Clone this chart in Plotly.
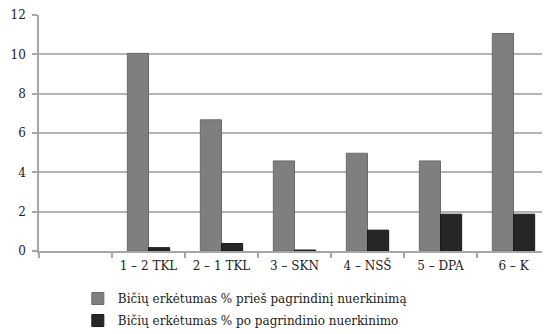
import plotly.graph_objects as go

categories = [" ", "1 – 2 TKL", "2 – 1 TKL", "3 – SKN", "4 – NSŠ", "5 – DPA", "6 – K"]
before = [None, 10.05, 6.67, 4.58, 4.97, 4.58, 11.06]
after = [None, 0.17, 0.38, 0.05, 1.06, 1.87, 1.87]
series_names = ["Bičių erkėtumas % prieš pagrindinį nuerkinimą",
                "Bičių erkėtumas % po pagrindinio nuerkinimo"]
y_ticks = [0, 2, 4, 6, 8, 10, 12]

fam = "DejaVu Serif"
fig = go.Figure()
fig.add_trace(go.Bar(x=categories, y=before, name=series_names[0],
                     marker=dict(color="#7f7f7f", line=dict(color="#6a6a6a", width=1)),
                     legendgroup="a"))
fig.add_trace(go.Bar(x=categories, y=after, name=series_names[1],
                     marker=dict(color="#262626", line=dict(color="#1a1a1a", width=1)),
                     legendgroup="b"))

font = dict(family=fam, size=12, color="#222222")
legfont = dict(family=fam, size=12, color="#222222")
fig.update_layout(
    width=550, height=334,
    margin=dict(l=31, r=8, t=7, b=91, autoexpand=False),
    paper_bgcolor="white", plot_bgcolor="white",
    barmode="group", bargap=0.42, bargroupgap=0,
    font=font,
    showlegend=True,
    legend=dict(orientation="v", x=0.076, xanchor="left", y=-0.14, yanchor="top",
                font=legfont, traceorder="grouped", tracegroupgap=3, itemwidth=30),
    xaxis=dict(type="category", showgrid=False, showline=True, linecolor="#a6a6a6", linewidth=1.5,
               ticks="outside", tickson="boundaries", ticklen=5, tickcolor="#a6a6a6", tickwidth=1.5,
               tickfont=font, range=[-0.5, 6.5], tickangle=0, ticklabelstandoff=3),
    yaxis=dict(range=[0, 12], tickvals=y_ticks, showgrid=True, gridcolor="#b3b3b3", gridwidth=1.5,
               showline=True, linecolor="#a6a6a6", linewidth=1.5, ticks="outside", ticklen=5,
               tickcolor="#a6a6a6", tickwidth=1.5, tickfont=font, zeroline=False, ticklabelstandoff=4,
               ticklabeloverflow="allow"),
)
fig.write_html("out.html")
